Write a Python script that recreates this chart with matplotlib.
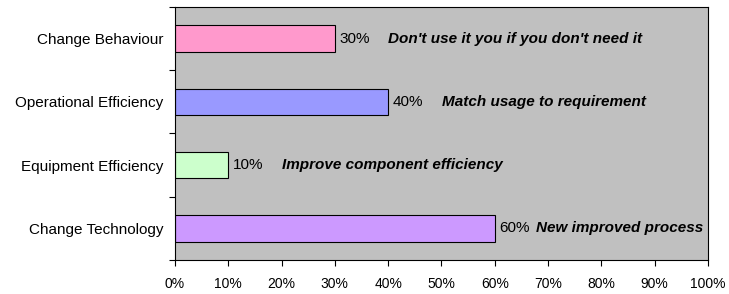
import numpy as np
import matplotlib.pyplot as plt
from matplotlib.ticker import FixedLocator, FuncFormatter

plt.rcParams['font.family'] = ['Liberation Sans', 'DejaVu Sans']

categories = ["Change Behaviour", "Operational Efficiency",
              "Equipment Efficiency", "Change Technology"]
values = [30, 40, 10, 60]
notes = ["Don't use it you if you don't need it",
         "Match usage to requirement",
         "Improve component efficiency",
         "New improved process"]
colors = ['#FF99CC', '#9999FF', '#CCFFCC', '#CC99FF']
note_gap = [35.5, 35.5, 35.5, 26.5]  # points between pct label and note

fig = plt.figure(figsize=(7.29, 2.94), dpi=100)
ax = fig.add_axes([0.240, 0.116, 0.731, 0.860])
ax.set_facecolor('#C0C0C0')

y = np.arange(len(categories))
ax.barh(y, values, height=0.42, color=colors, edgecolor='black', linewidth=0.8)

for yi, v, note, gap in zip(y, values, notes, note_gap):
    ax.annotate(f"{v}%", (v, yi), xytext=(3, 0), textcoords='offset points',
                va='center', ha='left', fontsize=11)
    ax.annotate(note, (v, yi), xytext=(3 + gap, 0), textcoords='offset points',
                va='center', ha='left', fontsize=11, fontstyle='italic',
                fontweight='bold')

ax.set_xlim(0, 100)
ax.set_ylim(len(categories) - 0.5, -0.5)
ax.set_xticks(np.arange(0, 101, 10))
ax.xaxis.set_major_formatter(FuncFormatter(lambda x, p: f"{int(x)}%"))

ax.yaxis.set_major_locator(FixedLocator(np.arange(-0.5, len(categories), 1.0)))
ax.yaxis.set_major_formatter(FuncFormatter(lambda x, p: ""))
ax.yaxis.set_minor_locator(FixedLocator(y))
ax.set_yticklabels(categories, minor=True)
ax.tick_params(axis='y', which='minor', length=0, pad=8.5, labelsize=11)
ax.tick_params(axis='y', which='major', length=4, direction='out', width=0.8)
ax.tick_params(axis='x', length=4, direction='out', width=0.8, pad=8, labelsize=10)

for s in ax.spines.values():
    s.set_linewidth(0.8)
    s.set_color('black')

fig.savefig('out.png', dpi=100)
